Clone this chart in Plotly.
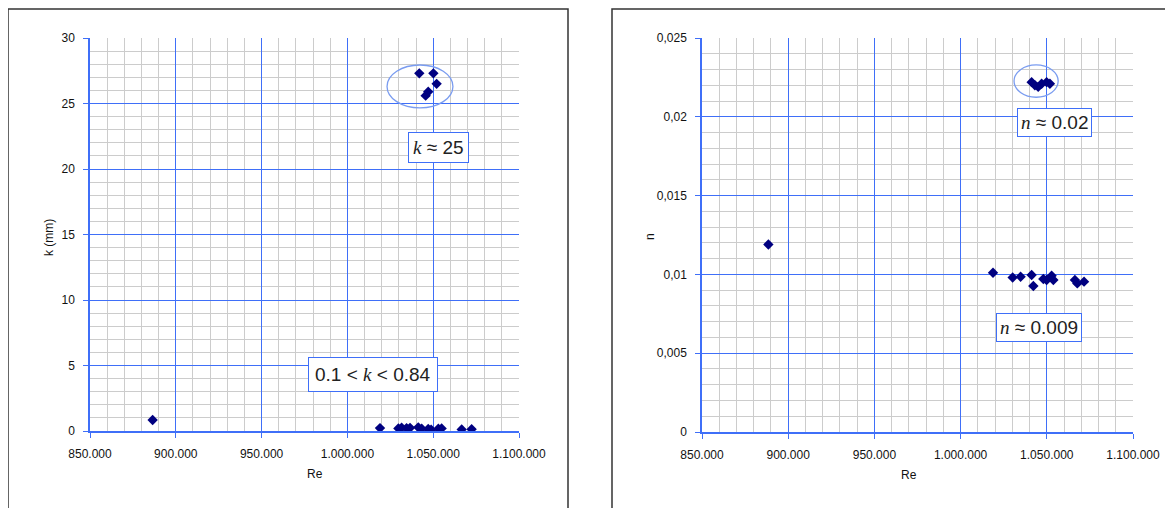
import plotly.graph_objects as go

# ---------------- data ----------------
re_k = [886500, 1019000, 1029700, 1031600, 1034500, 1036500, 1041300, 1043300,
        1047100, 1048800, 1053000, 1054900, 1066600, 1072400,
        1041900, 1050100, 1052000, 1047100, 1045600]
k_vals = [0.84, 0.22, 0.2, 0.25, 0.22, 0.24, 0.28, 0.18, 0.15, 0.1, 0.17, 0.2,
          0.12, 0.14,
          27.3, 27.3, 26.5, 25.9, 25.6]

re_n = [888500, 1018800, 1030200, 1034800, 1041200, 1042200, 1048000, 1049900,
        1052800, 1053800, 1066300, 1067700, 1071600,
        1041200, 1043100, 1045000, 1047000, 1049900, 1051800]
n_vals = [0.0119, 0.0101, 0.0098, 0.00985, 0.00996, 0.00926, 0.00971, 0.00964,
          0.00992, 0.00964, 0.00964, 0.00943, 0.00954,
          0.0222, 0.0220, 0.0219, 0.0221, 0.0222, 0.0221]

x_ticks = [850000, 900000, 950000, 1000000, 1050000, 1100000]
x_ticktext = ["850.000", "900.000", "950.000", "1.000.000", "1.050.000", "1.100.000"]
k_ticks = [0, 5, 10, 15, 20, 25, 30]
n_ticks = [0, 0.005, 0.01, 0.015, 0.02, 0.025]
n_ticktext = ["0", "0,005", "0,01", "0,015", "0,02", "0,025"]

# minor grid positions (between the major ticks only)
x_minor = [850000 + 10000 * i for i in range(26) if i % 5]
k_minor = [i for i in range(31) if i % 5]
n_minor = [round(0.001 * i, 4) for i in range(26) if i % 5]

# ---------------- layout constants ----------------
W, H = 1173, 508
OFF = 8  # page body margin
MAJOR = "#3f6ff8"
MINOR = "#cccccc"
MARK = "#000080"
FONT = "Liberation Sans, Arial, sans-serif"


def px_x(p):
    return (p - OFF) / W


def px_y(p):
    return 1 - (p - OFF) / H


fig = go.Figure()
fig.add_trace(go.Scatter(x=re_k, y=k_vals, mode="markers", xaxis="x", yaxis="y",
                         marker=dict(symbol="diamond", size=8, color=MARK),
                         showlegend=False))
fig.add_trace(go.Scatter(x=re_n, y=n_vals, mode="markers", xaxis="x2", yaxis="y2",
                         marker=dict(symbol="diamond", size=8, color=MARK),
                         showlegend=False))

axis_common = dict(showgrid=True, gridcolor=MAJOR, gridwidth=1,
                   showline=True, linecolor=MAJOR, linewidth=1.5,
                   ticks="outside", ticklen=5, tickcolor=MAJOR, zeroline=False,
                   ticklabelstandoff=6, automargin=False, layer="above traces",
                   tickfont=dict(family=FONT, size=12, color="#111"))

common_x = dict(range=[850000, 1100000], tickvals=x_ticks, ticktext=x_ticktext,
                minor=dict(tickmode="array", tickvals=x_minor, showgrid=True,
                           gridcolor=MINOR, gridwidth=1),
                **axis_common)

fig.update_layout(
    width=W, height=H, autosize=False,
    margin=dict(l=0, r=0, t=0, b=0, pad=0, autoexpand=False),
    paper_bgcolor="white", plot_bgcolor="white",
    xaxis=dict(domain=[px_x(90), px_x(519)], anchor="y", **common_x),
    yaxis=dict(domain=[px_y(431), px_y(38)], anchor="x", range=[0, 30],
               tickvals=k_ticks,
               minor=dict(tickmode="array", tickvals=k_minor, showgrid=True,
                          gridcolor=MINOR, gridwidth=1),
               **axis_common),
    xaxis2=dict(domain=[px_x(702), px_x(1133)], anchor="y2", **common_x),
    yaxis2=dict(domain=[px_y(432), px_y(38)], anchor="x2", range=[0, 0.025],
                tickvals=n_ticks, ticktext=n_ticktext,
                minor=dict(tickmode="array", tickvals=n_minor, showgrid=True,
                           gridcolor=MINOR, gridwidth=1),
                **axis_common),
)

# panel borders (open at the bottom / right like the cropped reference)
lx0, lx1, ty = px_x(8), px_x(568), px_y(9)
rx0 = px_x(612)
fig.add_shape(type="path", xref="paper", yref="paper",
              path=f"M {lx0},0 L {lx0},{ty} L {lx1},{ty} L {lx1},0",
              line=dict(color="#333", width=1.5), layer="below")
fig.add_shape(type="path", xref="paper", yref="paper",
              path=f"M {rx0},0 L {rx0},{ty} L 1,{ty}",
              line=dict(color="#333", width=1.5), layer="below")

# ellipses around upper clusters
fig.add_shape(type="circle", xref="x", yref="y",
              x0=1023100, x1=1061500, y0=24.66, y1=27.94,
              line=dict(color="#7a9cf0", width=1.3))
fig.add_shape(type="circle", xref="x2", yref="y2",
              x0=1031000, x1=1056600, y0=0.02124, y1=0.02329,
              line=dict(color="#7a9cf0", width=1.3))

SER = "<span style='font-family:Liberation Serif, Times New Roman, serif'><i>%s</i></span>"


def box(text, cx, cy, pad=4, size=19):
    fig.add_annotation(xref="paper", yref="paper", x=px_x(cx), y=px_y(cy),
                       text=text, showarrow=False, xanchor="center", yanchor="middle",
                       font=dict(family=FONT, size=size, color="#222"),
                       bgcolor="white", bordercolor=MAJOR, borderwidth=1,
                       borderpad=pad)


box("0.1 &lt; " + (SER % "k") + " &lt; 0.84", 372.5, 374.7, pad=6)
box((SER % "k") + " ≈ 25", 438, 148, pad=4)
box((SER % "n") + " ≈ 0.02", 1054, 122, pad=3)
box((SER % "n") + " ≈ 0.009", 1039, 327.5, pad=3)

# axis titles
fig.add_annotation(xref="paper", yref="paper", x=px_x(305), y=px_y(483), text="Re",
                   showarrow=False, font=dict(family=FONT, size=12, color="#111"))
fig.add_annotation(xref="paper", yref="paper", x=px_x(919), y=px_y(484), text="Re",
                   showarrow=False, font=dict(family=FONT, size=12, color="#111"))
fig.add_annotation(xref="paper", yref="paper", x=px_x(40), y=px_y(238), text="k (mm)",
                   textangle=-90, showarrow=False,
                   font=dict(family=FONT, size=12, color="#111"))
fig.add_annotation(xref="paper", yref="paper", x=px_x(650), y=px_y(237), text="n",
                   textangle=-90, showarrow=False,
                   font=dict(family=FONT, size=12, color="#111"))

fig.write_html("out.html")
